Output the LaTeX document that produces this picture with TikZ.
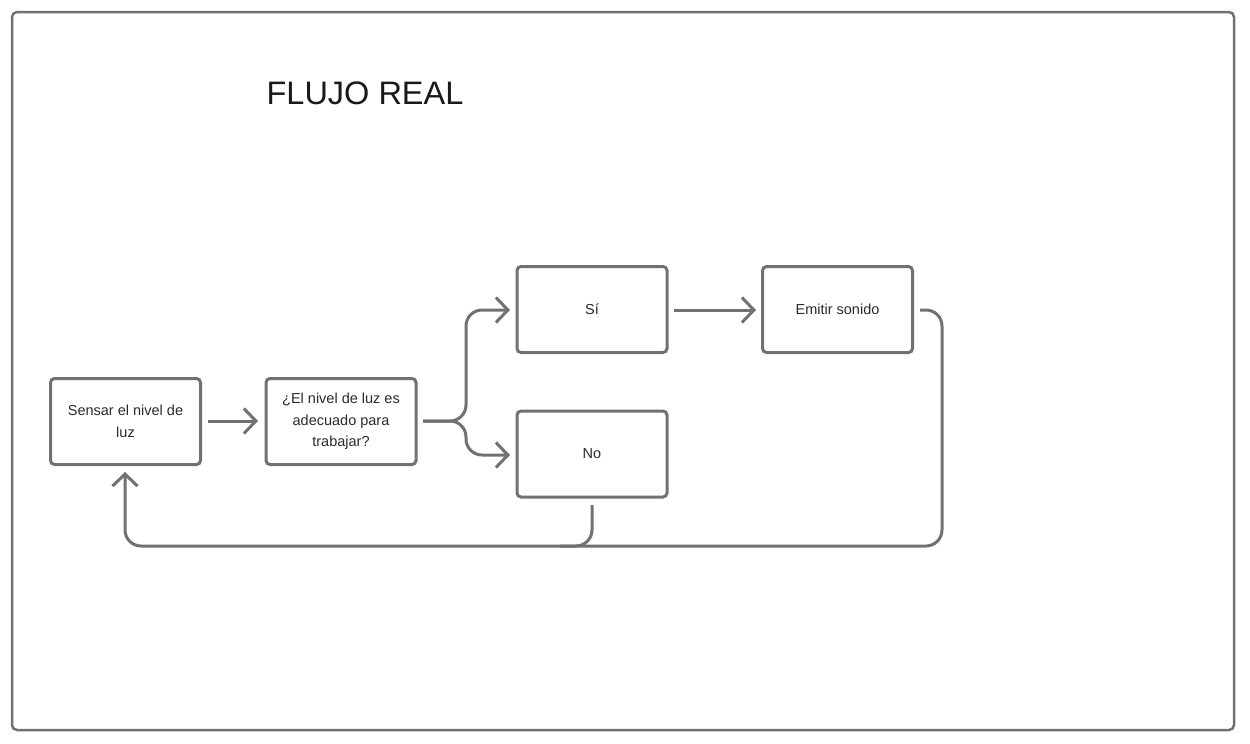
\documentclass[tikz,border=0pt]{standalone}
\usepackage{fontspec}
\setmainfont{Liberation Sans}
\usetikzlibrary{arrows.meta}
\definecolor{ln}{HTML}{717171}
\definecolor{tx}{HTML}{2B2B2B}
\tikzset{
  box/.style={draw=ln, line width=3pt, rounded corners=4pt, fill=white, minimum width=150pt, minimum height=86pt, inner sep=0pt, align=center, font=\fontsize{14.5}{21.5}\selectfont, text=tx},
  conn/.style={draw=ln, line width=3pt, rounded corners=16pt, -{Straight Barb[length=12pt,width=25pt,line width=3pt]}},
  plain/.style={draw=ln, line width=3pt, rounded corners=16pt}
}
\begin{document}
\begin{tikzpicture}[x=1pt,y=-1pt]
\useasboundingbox (0,0) rectangle (1250,744);
\draw[draw=ln, line width=2.5pt, rounded corners=5pt] (12,12) rectangle (1234,730);
\node[font=\fontsize{32.5}{38}\selectfont, text=black!90] (title) at (365,93) {FLUJO REAL};
\node[box] (s) at (125.5,421.5) {Sensar el nivel de\\luz};
\node[box] (q) at (341,421.5) {¿El nivel de luz es\\adecuado para\\trabajar?};
\node[box] (si) at (592,309.5) {Sí};
\node[box] (e) at (837.5,309.5) {Emitir sonido};
\node[box] (no) at (592,454) {No};
\coordinate (qo) at (423,421);
\coordinate (nb) at (592,505);
\coordinate (eo) at (920,310);
\coordinate (st) at (125,472);
\draw[conn] (208,421) -- (258,421);
\draw[conn] (qo) -- (466,421) |- (510,310);
\draw[conn] (qo) -- (466,421) |- (510,455);
\draw[conn] (674,310) -- (756,310);
\draw[conn] (eo) -| (942,546) -| (st);
\draw[plain] (nb) |- (560,546);
\end{tikzpicture}
\end{document}
